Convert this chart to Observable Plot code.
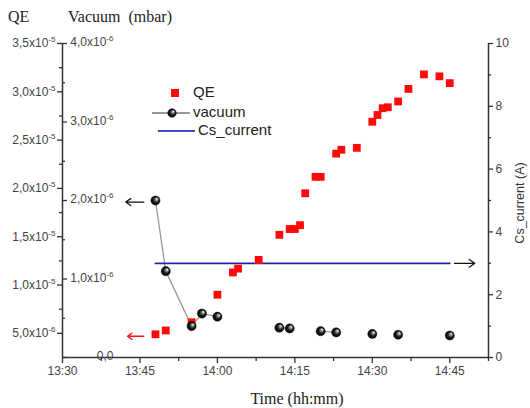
<!DOCTYPE html>
<html><head><meta charset="utf-8">
<script src="https://cdn.jsdelivr.net/npm/d3@7"></script>
<script src="https://cdn.jsdelivr.net/npm/@observablehq/plot@0.6"></script>
<style>body{margin:0;background:#fff} #chart svg{display:block}</style>
</head><body><div id="chart"></div>
<script>
// ---------- data ----------
const qeTimes = ["13:48","13:50","13:55","14:00","14:03","14:04","14:08","14:12","14:14","14:15","14:16","14:17","14:19","14:20","14:23","14:24","14:27","14:30","14:31","14:32","14:33","14:35","14:37","14:40","14:43","14:45"];
const qeValues = [4.9e-6,5.3e-6,6.15e-6,9.0e-6,1.13e-5,1.17e-5,1.26e-5,1.52e-5,1.58e-5,1.58e-5,1.62e-5,1.95e-5,2.12e-5,2.12e-5,2.36e-5,2.40e-5,2.42e-5,2.69e-5,2.76e-5,2.83e-5,2.84e-5,2.90e-5,3.03e-5,3.18e-5,3.16e-5,3.09e-5];

const vacTimes = ["13:48","13:50","13:55","13:57","14:00","14:12","14:14","14:20","14:23","14:30","14:35","14:45"];
const vacValues = [2.0e-6,1.10e-6,0.40e-6,0.56e-6,0.52e-6,0.38e-6,0.37e-6,0.335e-6,0.32e-6,0.30e-6,0.29e-6,0.28e-6];
const vacGroups = [1,1,1,1,1,2,2,3,3,4,5,6];

const curTimes = ["13:48","14:45"];
const curValues = [3,3];

const xTickTimes = ["13:30","13:45","14:00","14:15","14:30","14:45"];
const xMinorTimes = ["13:37:30","13:52:30","14:07:30","14:22:30","14:37:30","14:52:30"];
const qeTickValues = [5e-6,1e-5,1.5e-5,2e-5,2.5e-5,3e-5,3.5e-5];
const qeTickLabels = ["5,0x10^-6","1,0x10^-5","1,5x10^-5","2,0x10^-5","2,5x10^-5","3,0x10^-5","3,5x10^-5"];
const qeMinorValues = [7.5e-6,1.25e-5,1.75e-5,2.25e-5,2.75e-5,3.25e-5];
const vacTickValues = [0,1e-6,2e-6,3e-6,4e-6];
const vacTickLabels = ["0,0","1,0x10^-6","2,0x10^-6","3,0x10^-6","4,0x10^-6"];
const vacMinorValues = [0.5e-6,1.5e-6,2.5e-6,3.5e-6];
const curTickValues = [0,2,4,6,8,10];
const curTickLabels = ["0","2","4","6","8","10"];
const curMinorValues = [1,3,5,7,9];

// annotation arrows
const arrowsData = [
  {from:"13:45:45", to:"13:42:15", axis:"vac", value:1.98e-6, color:"#111"},
  {from:"13:45:45", to:"13:42:35", axis:"qe",  value:4.7e-6,  color:"#ff1a1a"},
  {from:"14:45:55", to:"14:49:50", axis:"cur", value:3,       color:"#111"}
];

// ---------- helpers ----------
const toMin = s => { const p = s.split(":").map(Number); return p[0]*60 + p[1] + (p[2]||0)/60; };
const W=530, H=408, ML=62, MR=42, MT=43, MB=51;
const FW = W-ML-MR, FH = H-MT-MB;
const xDomain = [toMin("13:30"), toMin("14:52:30")];
const yDomain = [2.5e-6, 3.5e-5];
const vacMap = d3.scaleLinear([0,4e-6], yDomain);
const curMap = d3.scaleLinear([0,10], yDomain);

const qe = qeTimes.map((t,i)=>({x: toMin(t), y: qeValues[i]}));
const vac = vacTimes.map((t,i)=>({x: toMin(t), y: vacMap(vacValues[i]), g: vacGroups[i]}));
const cur = curTimes.map((t,i)=>({x: toMin(t), y: curMap(curValues[i])}));
const arrows = arrowsData.map(a=>{
  const m = a.axis==="vac" ? vacMap : a.axis==="cur" ? curMap : (v=>v);
  return {x1: toMin(a.from), x2: toMin(a.to), y: m(a.value), color: a.color};
});

const sans = "Liberation Sans, Arial, sans-serif";
const serif = "Liberation Serif, Times New Roman, serif";
const axisColor = "#333";
const labelColor = "#444";

const plot = Plot.plot({
  width: W, height: H,
  marginLeft: ML, marginRight: MR, marginTop: MT, marginBottom: MB,
  x: {domain: xDomain, axis: null},
  y: {domain: yDomain, axis: null},
  style: {background: "#fff", overflow: "visible"},
  marks: [
    Plot.ruleX([xDomain[0]], {stroke: axisColor, strokeWidth: 1.5}),
    Plot.ruleX([xDomain[1]], {stroke: axisColor, strokeWidth: 1.5}),
    Plot.ruleY([yDomain[0]], {x1: xDomain[0], x2: xDomain[1], stroke: axisColor, strokeWidth: 1.5}),
    Plot.tickY(qeTickValues, {y: d=>d, insetLeft: -5, insetRight: FW, stroke: axisColor, strokeWidth: 1.3}),
    Plot.tickY(qeMinorValues, {y: d=>d, insetLeft: -3, insetRight: FW, stroke: axisColor, strokeWidth: 1.3}),
    Plot.tickY(vacTickValues, {y: d=>vacMap(d), insetLeft: 0, insetRight: FW-5, stroke: axisColor, strokeWidth: 1.3}),
    Plot.tickY(vacMinorValues, {y: d=>vacMap(d), insetLeft: 0, insetRight: FW-3, stroke: axisColor, strokeWidth: 1.3}),
    Plot.tickY(curTickValues, {y: d=>curMap(d), insetLeft: FW, insetRight: -5, stroke: axisColor, strokeWidth: 1.3}),
    Plot.tickY(curMinorValues, {y: d=>curMap(d), insetLeft: FW, insetRight: -3, stroke: axisColor, strokeWidth: 1.3}),
    Plot.tickX(xTickTimes, {x: d=>toMin(d), insetTop: FH, insetBottom: -6, stroke: axisColor, strokeWidth: 1.3}),
    Plot.tickX(xMinorTimes, {x: d=>toMin(d), insetTop: FH, insetBottom: -4, stroke: axisColor, strokeWidth: 1.3}),
    Plot.text(qeTickValues, {y: d=>d, text: (d,i)=>qeTickLabels[i], frameAnchor: "left", textAnchor: "end", dx: -7, fontSize: 12, fill: labelColor, fontFamily: sans}),
    Plot.text(vacTickValues, {y: d=>vacMap(d), text: (d,i)=>vacTickLabels[i], frameAnchor: "left", textAnchor: "end", dx: 51, dy: -1, fontSize: 12, fill: labelColor, fontFamily: sans}),
    Plot.text(curTickValues, {y: d=>curMap(d), text: (d,i)=>curTickLabels[i], frameAnchor: "right", textAnchor: "start", dx: 7, fontSize: 12, fill: labelColor, fontFamily: sans}),
    Plot.text(xTickTimes, {x: d=>toMin(d), text: d=>d, frameAnchor: "bottom", lineAnchor: "top", dy: 9, fontSize: 12, fill: labelColor, fontFamily: sans}),
    Plot.line(vac, {x: "x", y: "y", z: "g", stroke: "#9a9a9a", strokeWidth: 1.3}),
    Plot.line(cur, {x: "x", y: "y", stroke: "#2424a8", strokeWidth: 1.8}),
    Plot.dot(qe, {x: "x", y: "y", symbol: "square", r: 4.4, fill: "#ff0a0a", stroke: "none"}),
    Plot.dot(vac, {x: "x", y: "y", r: 4.6, fill: "url(#ball)", stroke: "#000", strokeWidth: 0.4}),
    Plot.arrow(arrows, {x1: "x1", x2: "x2", y1: "y", y2: "y", stroke: "color", strokeWidth: 1.3, headLength: 8, headAngle: 70})
  ]
});

document.getElementById("chart").appendChild(plot);
const svg = d3.select(plot);

svg.insert("defs", ":first-child").html(
  '<radialGradient id="ball" cx="0.5" cy="0.5" r="0.55" fx="0.68" fy="0.32">' +
  '<stop offset="0" stop-color="#ffffff"/><stop offset="0.22" stop-color="#9a9a9a"/>' +
  '<stop offset="0.55" stop-color="#1a1a1a"/><stop offset="1" stop-color="#000"/></radialGradient>');

svg.selectAll("text").each(function(){
  const t = this.textContent;
  if (t.includes("^")) {
    const [base, sup] = t.split("^");
    const el = d3.select(this);
    el.text(base);
    el.append("tspan").attr("dy", "-5").attr("font-size", "8").text(sup);
  }
});

// axis titles
const addText = (x, y, txt, font, size, anchor) => svg.append("text")
  .attr("x", x).attr("y", y).attr("text-anchor", anchor).attr("font-family", font)
  .attr("font-size", size).attr("fill", "#222").style("white-space", "pre").text(txt);
addText(8, 22, "QE", serif, 16, "start");
addText(68, 22, "Vacuum  (mbar)", serif, 16, "start");
addText(297, 404, "Time (hh:mm)", serif, 16, "middle");
svg.append("text").attr("transform", "translate(521,203) rotate(-90)").attr("text-anchor", "middle")
  .attr("dominant-baseline", "middle").attr("font-family", sans).attr("font-size", 12.5).attr("fill", "#333").text("Cs_current (A)");

// legend
const lg = svg.append("g").attr("font-family", sans).attr("font-size", 15).attr("fill", "#222").attr("text-anchor", "start");
lg.append("rect").attr("x", 171).attr("y", 89).attr("width", 8).attr("height", 8).attr("fill", "#ff0a0a");
lg.append("text").attr("x", 193).attr("y", 93).attr("dominant-baseline", "middle").text("QE");
lg.append("line").attr("x1", 152).attr("x2", 190).attr("y1", 113).attr("y2", 113).attr("stroke", "#333").attr("stroke-width", 1);
lg.append("circle").attr("cx", 172).attr("cy", 113).attr("r", 4.3).attr("fill", "url(#ball)").attr("stroke", "#000").attr("stroke-width", 0.4);
lg.append("text").attr("x", 193).attr("y", 113).attr("dominant-baseline", "middle").text("vacuum");
lg.append("line").attr("x1", 158).attr("x2", 195).attr("y1", 131).attr("y2", 131).attr("stroke", "#4848c8").attr("stroke-width", 2);
lg.append("text").attr("x", 198).attr("y", 131).attr("dominant-baseline", "middle").text("Cs_current");
</script>
</body></html>
